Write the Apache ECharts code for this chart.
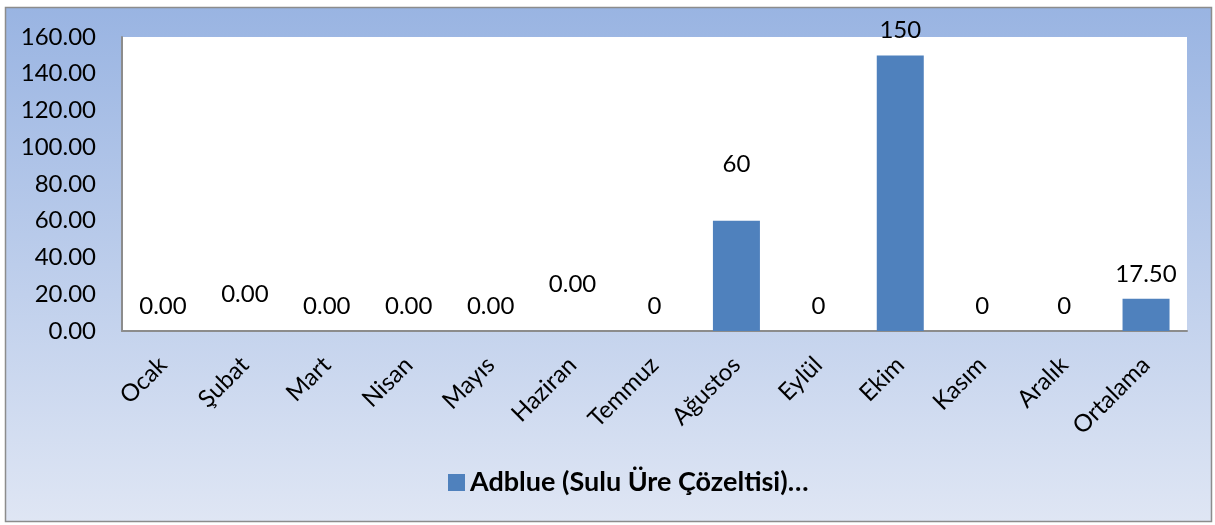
<!DOCTYPE html>
<html>
<head>
<meta charset="utf-8">
<script src="https://cdn.jsdelivr.net/npm/echarts@6/dist/echarts.min.js"></script>
<style>
html,body{margin:0;padding:0;background:#fff;}
#c{width:1215px;height:525px;}
</style>
</head>
<body>
<div id="c"></div>
<script>
const categories = ['Ocak','Şubat','Mart','Nisan','Mayıs','Haziran','Temmuz','Ağustos','Eylül','Ekim','Kasım','Aralık','Ortalama'];
const values = [0,0,0,0,0,0,0,60,0,150,0,0,17.5];
const valueLabels = ['0.00','0.00','0.00','0.00','0.00','0.00','0','60','0','150','0','0','17.50'];
const seriesName = 'Adblue (Sulu Üre Çözeltisi)…';
const yTicks = [0,20,40,60,80,100,120,140,160];

// manual label lifts (as placed in the original chart)
const labelLift = {1: 12, 5: 22, 7: 31};

const FONT = 'Lato';
const chart = echarts.init(document.getElementById('c'));
const data = values.map((v, i) => ({
  value: v,
  label: { distance: 13 + (labelLift[i] || 0) }
}));

chart.setOption({
  animation: false,
  textStyle: { fontFamily: FONT },
  graphic: [{
    type: 'rect',
    shape: { x: 5.5, y: 7.5, width: 1206, height: 514 },
    style: {
      fill: new echarts.graphic.LinearGradient(0, 0, 0, 1, [
        { offset: 0, color: '#99b4e2' },
        { offset: 1, color: '#dfe6f4' }
      ]),
      stroke: '#8c8c8c', lineWidth: 1.5
    },
    z: -10
  }],
  grid: {
    left: 122, right: 28, top: 37, bottom: 194,
    show: true, backgroundColor: '#ffffff', borderWidth: 0
  },
  legend: {
    data: [seriesName],
    left: 443, top: 464,
    icon: 'rect', itemWidth: 17, itemHeight: 17, itemGap: 6,
    textStyle: { fontFamily: FONT, fontSize: 27, fontWeight: 'bold', color: '#000' }
  },
  xAxis: {
    type: 'category',
    data: categories,
    axisLine: { show: true, lineStyle: { color: '#8c8c8c', width: 2 } },
    axisTick: { show: false },
    axisLabel: {
      rotate: 45, margin: 30, color: '#000', fontFamily: FONT, fontSize: 24, interval: 0
    }
  },
  yAxis: {
    type: 'value',
    min: 0, max: 160, interval: 20,
    splitLine: { show: false },
    axisLine: { show: true, lineStyle: { color: '#8c8c8c', width: 2 } },
    axisTick: { show: false },
    axisLabel: {
      margin: 26, color: '#000', fontFamily: FONT, fontSize: 24,
      formatter: v => yTicks.includes(v) ? v.toFixed(2) : ''
    }
  },
  series: [{
    name: seriesName,
    type: 'bar',
    data: data,
    barWidth: 47,
    itemStyle: { color: '#4f81bd' },
    label: {
      show: true, position: 'top', color: '#000', fontFamily: FONT, fontSize: 24,
      formatter: p => valueLabels[p.dataIndex]
    }
  }]
});
</script>
</body>
</html>
